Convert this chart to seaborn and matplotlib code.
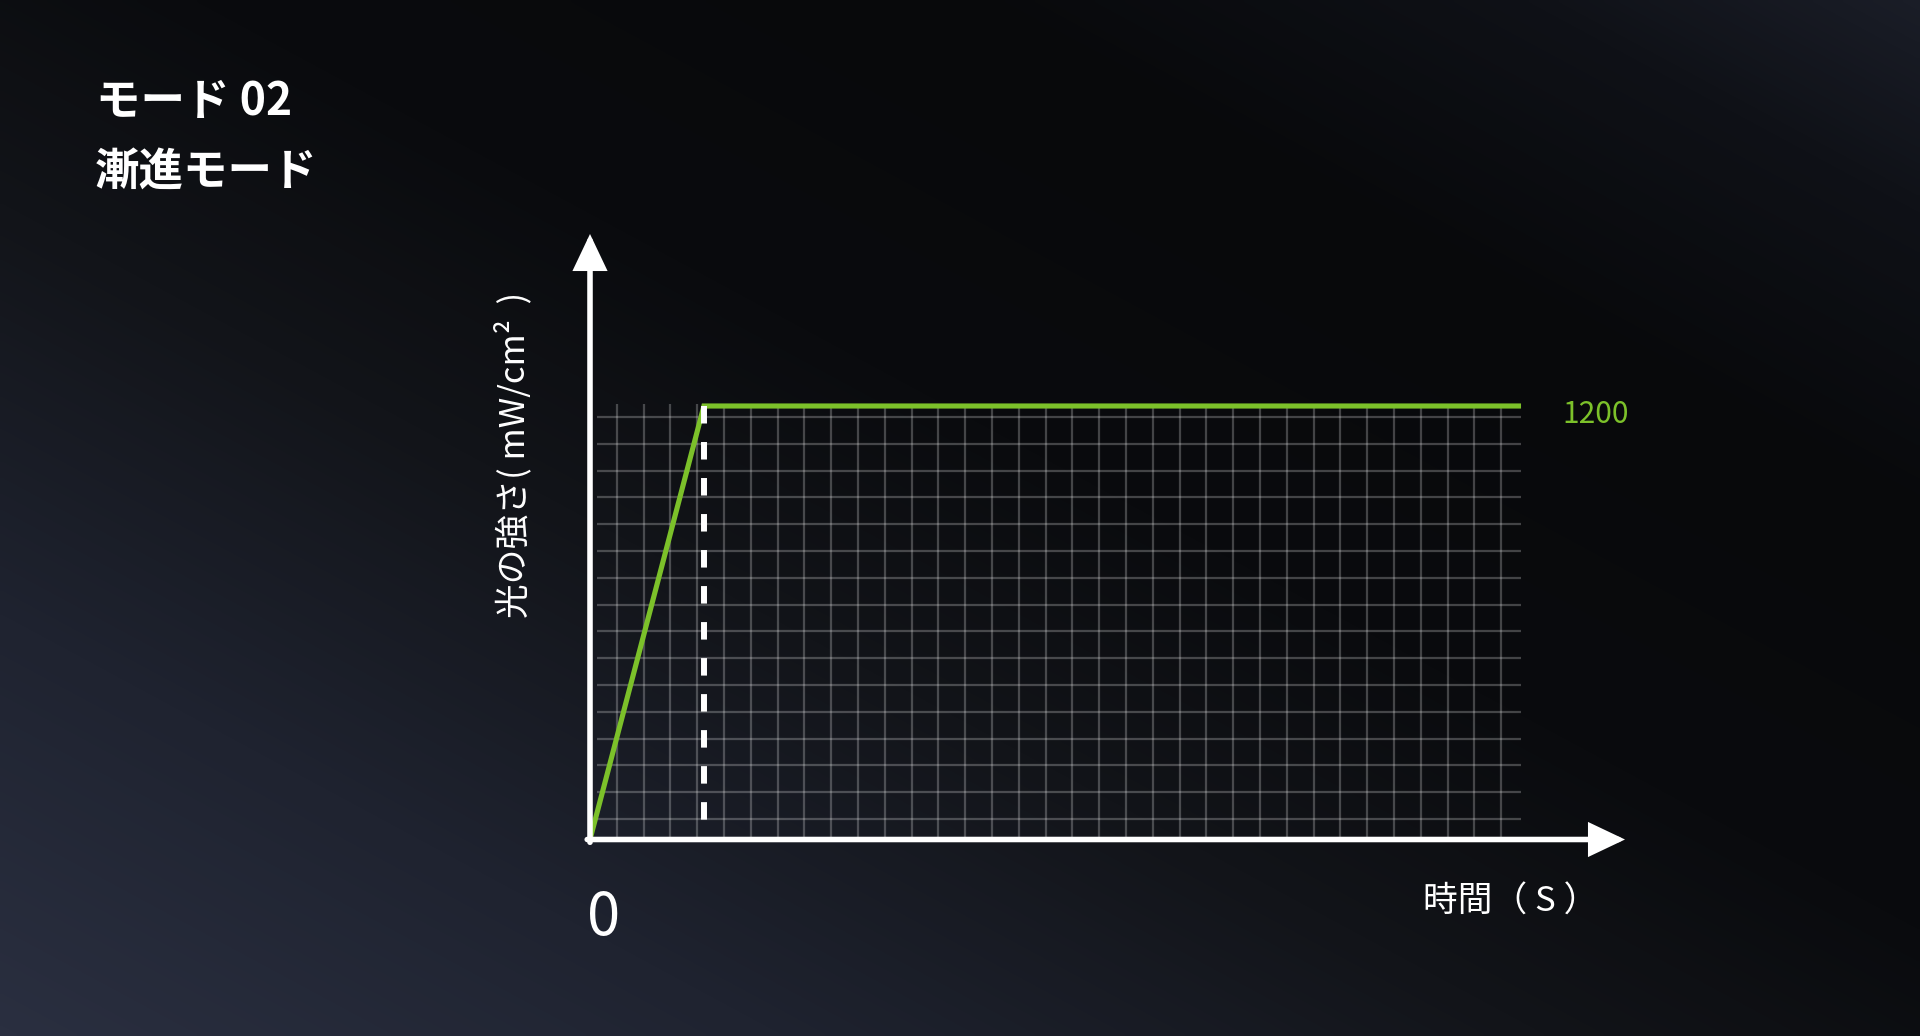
import numpy as np
import pandas as pd
import matplotlib
matplotlib.use("Agg")
import matplotlib.pyplot as plt
from matplotlib.colors import LinearSegmentedColormap
import seaborn as sns

# ---------------- data ----------------
time_s = [0.0, 4.25, 34.74]          # ramp start, ramp end, end of hold
intensity = [0, 1200, 1200]          # mW/cm2
peak_value = 1200
ramp_end = 4.25
title_lines = ["モード 02", "漸進モード"]
x_label = "時間（ S ）"
y_label = "光の強さ( mW/cm²  )"
origin_label = "0"
peak_label = "1200"

# ---------------- style ----------------
W, H, DPI = 1920, 1036, 100
GREEN = "#7cc12a"
sns.set_theme(style="dark")
plt.rcParams['font.family'] = ['Noto Sans CJK JP', 'DejaVu Sans']

def fx(px):
    return px / W

def fy(py):
    return 1 - py / H

fig = plt.figure(figsize=(W / DPI, H / DPI), dpi=DPI)

# background gradient
bg = fig.add_axes([0, 0, 1, 1])
bg.axis('off')
u = np.linspace(0, 1, 480)
v = np.linspace(1, 0, 260)
U, V = np.meshgrid(u, v)
T = (U + V) / 2
cmap = LinearSegmentedColormap.from_list(
    'bg', [(0.0, '#2a2f40'), (0.2, '#1f2330'), (0.4, '#121419'), (0.55, '#0a0b0e'),
           (0.75, '#08090b'), (0.9, '#0f1117'), (1.0, '#1a1d27')])
bg.imshow(T, cmap=cmap, vmin=0, vmax=1, aspect='auto', extent=(0, 1, 0, 1),
          origin='upper', interpolation='bilinear')

# main axes (origin at 590,839.5 px; arrow tips at 1625 and 234 px)
L_PX, R_PX, B_PX, T_PX = 590, 1625, 839.5, 234
ax = fig.add_axes([fx(L_PX), fy(B_PX), (R_PX - L_PX) / W, (B_PX - T_PX) / H])
ax.patch.set_alpha(0)
for s in ax.spines.values():
    s.set_visible(False)
ax.set_xticks([])
ax.set_yticks([])
ax.grid(False)

cell_px = 26.8
px_per_unit_y = (B_PX - 406) / peak_value
ax.set_xlim(0, (R_PX - L_PX) / cell_px)
ax.set_ylim(0, (B_PX - T_PX) / px_per_unit_y)

# decorative grid
grid_kw = dict(color='white', alpha=0.24, lw=1.6, zorder=1)
ax.vlines(np.arange(1, 35), 0, (B_PX - 404) / px_per_unit_y, **grid_kw)
hy = [(B_PX - (417 + cell_px * k)) / px_per_unit_y for k in range(16)]
ax.hlines(hy, 7 / cell_px, time_s[-1], **grid_kw)

# data line
df = pd.DataFrame({"time": time_s, "intensity": intensity})
sns.lineplot(data=df, x="time", y="intensity", color=GREEN, lw=3.7, ax=ax,
             zorder=3, solid_capstyle='butt', solid_joinstyle='miter')
ax.set_xlabel("")
ax.set_ylabel("")
ax.plot([ramp_end, ramp_end], [peak_value, 0], color='white', lw=4.3,
        dashes=(2.93, 3.1), dash_capstyle='butt', zorder=4)

# axes with arrows
ax_w = R_PX - L_PX
ax_h = B_PX - T_PX
arrow_kw = dict(arrowstyle='-|>,head_length=20.0,head_width=9.5', mutation_scale=1,
                lw=4.0, color='white', shrinkA=0, shrinkB=0, joinstyle='miter')
ax.annotate('', xy=(0, 1), xytext=(0, -2.8 / ax_h), xycoords='axes fraction',
            textcoords='axes fraction', arrowprops=arrow_kw, annotation_clip=False)
ax.annotate('', xy=(1, 0), xytext=(-2.8 / ax_w, 0), xycoords='axes fraction',
            textcoords='axes fraction', arrowprops=arrow_kw, annotation_clip=False)

# peak label
ax.annotate(peak_label, xy=(time_s[-1], peak_value), xytext=(41, -17),
            textcoords='offset pixels', color=GREEN, fontsize=21.5,
            ha='left', va='baseline', annotation_clip=False)

# texts
fig.text(fx(604), fy(935), origin_label, color='white', fontsize=43,
         ha='center', va='baseline')
fig.text(fx(1423), fy(912), x_label, color='white', fontsize=25,
         ha='left', va='baseline')
fig.text(fx(513), fy(455), y_label, color='white', fontsize=25, rotation=90,
         ha='center', va='center')
fig.text(fx(96), fy(115), title_lines[0], color='white', fontsize=32,
         fontweight='bold', ha='left', va='baseline')
fig.text(fx(95), fy(186), title_lines[1], color='white', fontsize=32,
         fontweight='bold', ha='left', va='baseline')

fig.savefig("out.png", dpi=DPI)
